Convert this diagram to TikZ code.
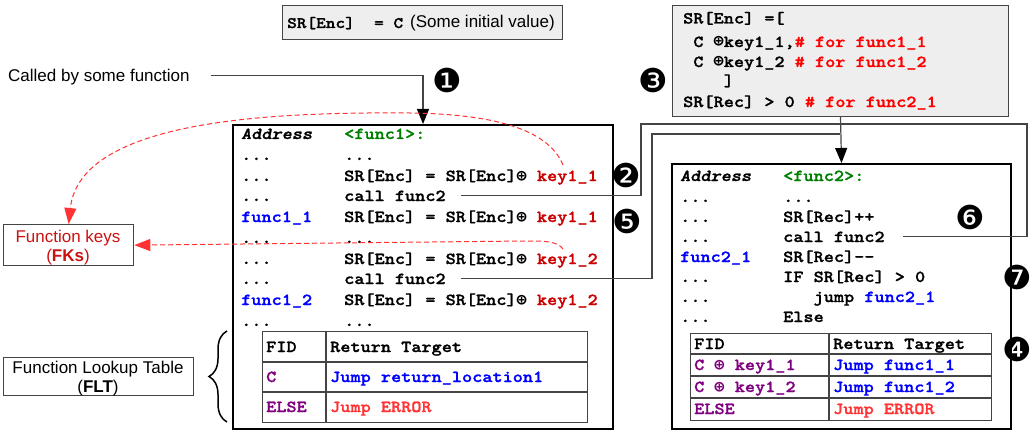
\documentclass[tikz,border=0pt]{standalone}
\usepackage{fontspec}
\setmainfont{Liberation Sans}
\newfontfamily\cmono{lmmonolt10-bold}[Extension=.otf, FakeStretch=1.15, FakeBold=1.3, BoldFont=lmmonolt10-bold, ItalicFont=lmmonolt10-boldoblique, BoldItalicFont=lmmonolt10-boldoblique]
\newfontfamily\dvmono{DejaVu Sans Mono}
\newfontfamily\dvsans{DejaVu Sans}
\usetikzlibrary{arrows.meta,decorations.pathreplacing}
\definecolor{keyred}{RGB}{204,0,0}
\definecolor{cmtred}{RGB}{255,0,0}
\definecolor{lblue}{RGB}{0,0,255}
\definecolor{lgreen}{RGB}{0,128,0}
\definecolor{lpurple}{RGB}{128,0,128}
\definecolor{errred}{RGB}{255,51,51}
\definecolor{dashred}{RGB}{255,51,51}
\definecolor{fkred}{RGB}{204,17,17}
\definecolor{boxgray}{RGB}{238,238,238}
\definecolor{linegray}{RGB}{68,68,68}
\newcommand\xorop{{\dvmono\bfseries ⊕}}
\tikzset{
 codetxt/.style={anchor=base west, inner sep=0pt, font=\cmono\fontsize{16.8}{20}\selectfont},
 sanstxt/.style={anchor=base, inner sep=0pt, font=\fontsize{17}{20}\selectfont},
 numlbl/.style={inner sep=0pt, font=\dvsans\fontsize{33}{33}\selectfont},
 funcbox/.style={draw=black, line width=2pt, anchor=north west, inner sep=0pt},
 graybox/.style={draw=linegray, fill=boxgray, line width=1pt, anchor=north west, inner sep=0pt},
 lblbox/.style={draw=linegray, fill=white, line width=1.3pt, anchor=north west, inner sep=0pt},
 tblframe/.style={draw=linegray, line width=1.2pt, anchor=north west, inner sep=0pt},
 tblline/.style={draw=linegray, line width=1.2pt},
 conn/.style={draw=linegray, line width=1.2pt},
 blkarrow/.style={-{Triangle[length=15pt,width=12pt,color=black]}},
 reddash/.style={draw=dashred, line width=1pt, dash pattern=on 5pt off 3pt, -{Triangle[length=16pt,width=12pt,color=dashred]}},
}
\begin{document}
\begin{tikzpicture}[x=1pt,y=-1pt]
\useasboundingbox (0,0) rectangle (1032,433);
\fill[white] (0,0) rectangle (1032,433);

% top-left box
\node[graybox, minimum width=280, minimum height=34] (init) at (282,5) {};
\node[codetxt, font=\cmono\fontsize{16}{20}\selectfont] (initc) at (287,28) {SR[Enc]~~=~C};
\node[sanstxt, anchor=base west] (initt) at (410,28) {(Some initial value)};

% top-right box
\node[graybox, minimum width=336, minimum height=111] (tr) at (672,5) {};
\node[codetxt] (tr1) at (683,23.5) {SR[Enc]~=[};
\node[codetxt] (tr2) at (683,47) {~C~\xorop key1\_1,{\color{cmtred}\#~for~func1\_1}};
\node[codetxt] (tr3) at (683,67) {~C~\xorop key1\_2~{\color{cmtred}\#~for~func1\_2}};
\node[codetxt] (tr4) at (683,86) {~~~~]};
\node[codetxt] (tr5) at (683,107) {SR[Rec]~>~0~{\color{cmtred}\#~for~func2\_1}};

% called by
\node[sanstxt, anchor=base west] (cbs) at (8,82) {Called by some function};

% func1 box
\node[funcbox, minimum width=380, minimum height=304] (f1) at (232,124) {};
\node[codetxt] (a0) at (241,139) {\itshape Address};
\node[codetxt] (a1) at (241,160) {...};
\node[codetxt] (a2) at (241,181) {...};
\node[codetxt] (a3) at (241,201) {...};
\node[codetxt, text=lblue] (a4) at (241,222) {func1\_1};
\node[codetxt] (a5) at (241,243) {...};
\node[codetxt] (a6) at (241,264) {...};
\node[codetxt] (a7) at (241,284) {...};
\node[codetxt, text=lblue] (a8) at (241,305) {func1\_2};
\node[codetxt] (a9) at (241,326) {...};
\node[codetxt, text=lgreen] (b0) at (344,139) {<func1>:};
\node[codetxt] (b1) at (344,160) {...};
\node[codetxt] (b2) at (344,181) {SR[Enc]~=~SR[Enc]\xorop~{\color{keyred}key1\_1}};
\node[codetxt] (b3) at (344,201) {call~func2};
\node[codetxt] (b4) at (344,222) {SR[Enc]~=~SR[Enc]\xorop~{\color{keyred}key1\_1}};
\node[codetxt] (b5) at (344,243) {...};
\node[codetxt] (b6) at (344,264) {SR[Enc]~=~SR[Enc]\xorop~{\color{keyred}key1\_2}};
\node[codetxt] (b7) at (344,284) {call~func2};
\node[codetxt] (b8) at (344,305) {SR[Enc]~=~SR[Enc]\xorop~{\color{keyred}key1\_2}};
\node[codetxt] (b9) at (344,326) {...};

% func1 table
\node[tblframe, minimum width=325, minimum height=91] (t1) at (262,331) {};
\draw[tblline] (326,331) -- (326,422);
\draw[tblline] (262,362) -- (587,362);
\draw[tblline] (262,392) -- (587,392);
\node[codetxt] (t1a) at (266,352) {FID};
\node[codetxt] (t1b) at (330,352) {Return~Target};
\node[codetxt, text=lpurple] (t1c) at (266,382) {C};
\node[codetxt, text=lblue] (t1d) at (330,382) {Jump~return\_location1};
\node[codetxt, text=lpurple] (t1e) at (266,412) {ELSE};
\node[codetxt, text=errred] (t1f) at (330,412) {Jump~ERROR};

% brace and FLT
\draw[decorate, decoration={brace, amplitude=18pt}, line width=1.5pt] (227,422) -- (227,331);
\node[lblbox, minimum width=190, minimum height=38] (flt) at (3,357) {};
\node[sanstxt] (flt1) at (98,373) {Function Lookup Table};
\node[sanstxt] (flt2) at (98,392) {(\textbf{FLT})};

% FKs
\node[lblbox, minimum width=130, minimum height=41] (fks) at (3,224) {};
\node[sanstxt, text=fkred] (fks1) at (68,242) {Function keys};
\node[sanstxt, text=fkred] (fks2) at (68,261) {(\textbf{FKs})};

% func2 box
\node[funcbox, minimum width=339, minimum height=265] (f2) at (671,163) {};
\node[codetxt] (c0) at (680,181) {\itshape Address};
\node[codetxt] (c1) at (680,202) {...};
\node[codetxt] (c2) at (680,222) {...};
\node[codetxt] (c3) at (680,242) {...};
\node[codetxt, text=lblue] (c4) at (680,262) {func2\_1};
\node[codetxt] (c5) at (680,282) {...};
\node[codetxt] (c6) at (680,302) {...};
\node[codetxt] (c7) at (680,322) {...};
\node[codetxt, text=lgreen] (d0) at (783,181) {<func2>:};
\node[codetxt] (d1) at (783,202) {...};
\node[codetxt] (d2) at (783,222) {SR[Rec]++};
\node[codetxt] (d3) at (783,242) {call~func2};
\node[codetxt] (d4) at (783,262) {SR[Rec]-{}-};
\node[codetxt] (d5) at (783,282) {IF~SR[Rec]~>~0};
\node[codetxt] (d6) at (783,302) {~~~jump~{\color{lblue}func2\_1}};
\node[codetxt] (d7) at (783,322) {Else};

% func2 table
\node[tblframe, minimum width=301, minimum height=87] (t2) at (690,333) {};
\draw[tblline] (829,333) -- (829,420);
\draw[tblline] (690,354) -- (991,354);
\draw[tblline] (690,376) -- (991,376);
\draw[tblline] (690,398) -- (991,398);
\node[codetxt] (t2a) at (694,349) {FID};
\node[codetxt] (t2b) at (833,349) {Return~Target};
\node[codetxt, text=lpurple] (t2c) at (694,370) {C~\xorop~key1\_1};
\node[codetxt, text=lblue] (t2d) at (833,370) {Jump~func1\_1};
\node[codetxt, text=lpurple] (t2e) at (694,392) {C~\xorop~key1\_2};
\node[codetxt, text=lblue] (t2f) at (833,392) {Jump~func1\_2};
\node[codetxt, text=lpurple] (t2g) at (694,414) {ELSE};
\node[codetxt, text=errred] (t2h) at (833,414) {Jump~ERROR};

% circled numbers
\node[numlbl] (n1) at (447,80) {❶};
\node[numlbl] (n2) at (626,175) {❷};
\node[numlbl] (n3) at (653,80) {❸};
\node[numlbl] (n4) at (1017,349) {❹};
\node[numlbl] (n5) at (627,221) {❺};
\node[numlbl] (n6) at (970,217) {❻};
\node[numlbl] (n7) at (1017,277) {❼};

% connectors
\draw[conn, blkarrow] ([xshift=21pt,yshift=2pt]cbs.east) -| (f1.north);
\draw[conn] ([xshift=15pt]b3.east) -| (641,124) -- (1027,124) |- ([xshift=18pt]d3.east);
\draw[conn] ([xshift=15pt]b7.east) -| (652,134) -- (840,134);
\draw[conn, blkarrow] (tr.south) -- (f2.north);

% red dashed
\coordinate (k11top) at (563,165);
\coordinate (k12top) at (563,249);
\draw[reddash] (k11top) .. controls (548,128) and (490,114) .. (410,113) .. controls (280,112) and (80,118) .. (fks.north);
\draw[reddash] (k12top) .. controls (557,241) and (545,241) .. (525,241) -- (fks.east);
\end{tikzpicture}
\end{document}
